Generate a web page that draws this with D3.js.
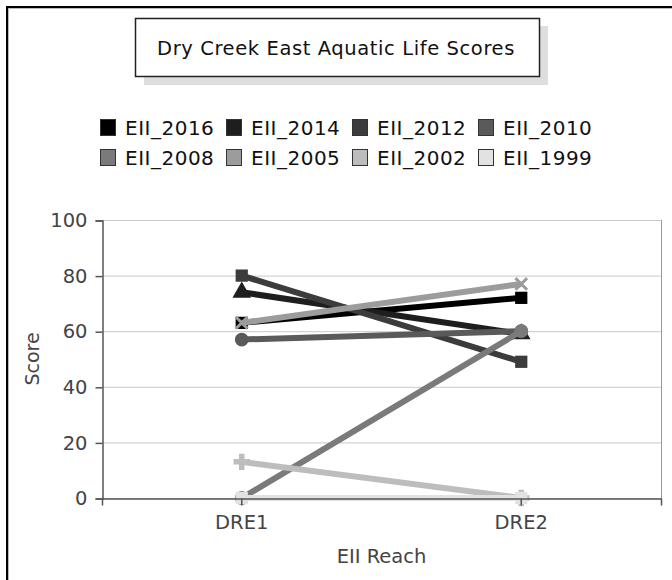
<!DOCTYPE html>
<html>
<head>
<meta charset="utf-8">
<script src="https://cdn.jsdelivr.net/npm/d3@7"></script>
<style>
  body { margin: 0; background: #fff; }
  text { font-family: "DejaVu Sans", sans-serif; }
</style>
</head>
<body>
<div id="chart"></div>
<script>
var width = 672;
var height = 580;

// data
var reaches = ["DRE1", "DRE2"];
var seriesNames = ["EII_2016", "EII_2014", "EII_2012", "EII_2010", "EII_2008", "EII_2005", "EII_2002", "EII_1999"];
var seriesColors = ["#000000", "#1e1e1e", "#3c3c3c", "#5a5a5a", "#7a7a7a", "#9c9c9c", "#bdbdbd", "#e2e2e2"];
var seriesShapes = ["square", "triangle", "square", "circle", "circle", "cross", "plus", "square"];
var eii2016 = [63, 72];
var eii2014 = [74, 59];
var eii2012 = [80, 49];
var eii2010 = [57, 60];
var eii2008 = [0, 60];
var eii2005 = [63, 77];
var eii2002 = [13, 0];
var eii1999 = [0, 0];
var seriesValues = [eii2016, eii2014, eii2012, eii2010, eii2008, eii2005, eii2002, eii1999];
var yTicks = [0, 20, 40, 60, 80, 100];

var m = { left: 102, right: 661, top: 220, bottom: 498 };

var svg = d3.select("#chart").append("svg")
    .attr("width", width)
    .attr("height", height);

// outer frame
svg.append("rect")
    .attr("x", 7).attr("y", 7)
    .attr("width", width + 10).attr("height", height + 10)
    .attr("fill", "none")
    .attr("stroke", "#000")
    .attr("stroke-width", 2);
svg.append("rect")
    .attr("x", 8.5).attr("y", 8.5)
    .attr("width", width + 10).attr("height", height + 10)
    .attr("fill", "none")
    .attr("stroke", "#bbb")
    .attr("stroke-width", 1);

// title box with shadow
svg.append("rect")
    .attr("x", 144).attr("y", 26)
    .attr("width", 404).attr("height", 59)
    .attr("fill", "#dedede");
svg.append("rect")
    .attr("x", 135.5).attr("y", 18.5)
    .attr("width", 404).attr("height", 58)
    .attr("fill", "#fff")
    .attr("stroke", "#222")
    .attr("stroke-width", 1.5);
svg.append("text")
    .attr("x", 336).attr("y", 55)
    .attr("text-anchor", "middle")
    .style("font-size", "19.5px")
    .style("letter-spacing", "0.6px")
    .style("fill", "#111")
    .text("Dry Creek East Aquatic Life Scores");

// legend
var legend = svg.append("g");
var items = legend.selectAll("g")
    .data(seriesNames)
    .enter().append("g")
    .attr("transform", function(d, i) {
        return "translate(" + (100 + (i % 4) * 126) + "," + (119 + Math.floor(i / 4) * 30) + ")";
    });
items.append("rect")
    .attr("x", 0.5).attr("y", 0.5)
    .attr("width", 15).attr("height", 16)
    .attr("fill", function(d, i) { return seriesColors[i]; })
    .attr("stroke", "#333");
items.append("text")
    .attr("x", 25).attr("y", 16)
    .style("font-size", "20px")
    .style("letter-spacing", "0.5px")
    .style("fill", "#111")
    .text(function(d) { return d; });

// scales
var x = d3.scaleBand().domain(reaches).range([m.left, m.right]);
var y = d3.scaleLinear().domain([0, 100]).range([m.bottom, m.top]);

// grid
svg.append("g").selectAll("line")
    .data(yTicks)
    .enter().append("line")
    .attr("x1", m.left).attr("x2", m.right)
    .attr("y1", function(d) { return y(d) + 0.5; })
    .attr("y2", function(d) { return y(d) + 0.5; })
    .attr("stroke", "#c8c8c8");

svg.append("line")
    .attr("x1", m.right + 0.5).attr("x2", m.right + 0.5)
    .attr("y1", m.top).attr("y2", m.bottom)
    .attr("stroke", "#999");

// lines and markers, first series at the bottom
var cx = function(i) { return x(reaches[i]) + x.bandwidth() / 2; };
var line = d3.line()
    .x(function(d, i) { return cx(i); })
    .y(function(d) { return y(d); });

var series = svg.append("g").selectAll("g")
    .data(d3.range(seriesNames.length))
    .enter().append("g");

series.append("path")
    .attr("d", function(s) { return line(seriesValues[s]); })
    .attr("fill", "none")
    .attr("stroke", function(s) { return seriesColors[s]; })
    .attr("stroke-width", 6);

var shapeType = {
    square: d3.symbolSquare,
    triangle: d3.symbolTriangle,
    circle: d3.symbolCircle,
    cross: d3.symbolX,
    plus: d3.symbolCross
};

series.each(function(s) {
    var isX = seriesShapes[s] === "cross";
    d3.select(this).selectAll("path.pt")
        .data(seriesValues[s])
        .enter().append("path")
        .attr("class", "pt")
        .attr("transform", function(d, i) { return "translate(" + cx(i) + "," + y(d) + ")"; })
        .attr("d", d3.symbol().type(shapeType[seriesShapes[s]]).size(isX ? 90 : 150))
        .attr("fill", seriesColors[s])
        .attr("stroke", isX ? seriesColors[s] : "none")
        .attr("stroke-width", isX ? 3 : 0);
});

// axes on top
var yAxis = svg.append("g")
    .attr("transform", "translate(" + (m.left + 0.5) + ",0.5)")
    .call(d3.axisLeft(y).tickValues(yTicks).tickSize(7).tickPadding(8));
var xAxis = svg.append("g")
    .attr("transform", "translate(0," + (m.bottom + 0.5) + ")")
    .call(d3.axisBottom(x).tickSize(7).tickPadding(10));
[yAxis, xAxis].forEach(function(a) {
    a.select(".domain").attr("stroke", "#555").attr("stroke-width", 1.5);
    a.selectAll(".tick line").attr("stroke", "#555").attr("stroke-width", 1.5);
    a.selectAll("text")
        .style("font-family", "DejaVu Sans, sans-serif")
        .style("font-size", "19.5px")
        .style("fill", "#444");
});

svg.append("text")
    .attr("transform", "translate(39," + ((m.top + m.bottom) / 2) + ") rotate(-90)")
    .attr("text-anchor", "middle")
    .style("font-size", "19px")
    .style("fill", "#444")
    .text("Score");
svg.append("text")
    .attr("x", (m.left + m.right) / 2).attr("y", 563)
    .attr("text-anchor", "middle")
    .style("font-size", "19.5px")
    .style("fill", "#444")
    .text("EII Reach");
</script>
</body>
</html>
